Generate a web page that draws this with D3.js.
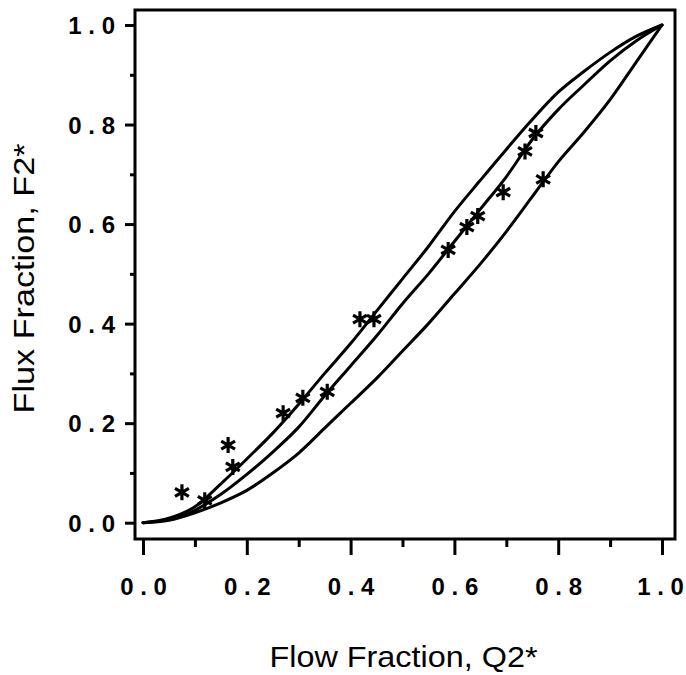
<!DOCTYPE html>
<html>
<head>
<meta charset="utf-8">
<script src="https://cdn.jsdelivr.net/npm/d3@7"></script>
<style>
  html, body { margin: 0; padding: 0; background: #fff; }
  svg { display: block; }
</style>
</head>
<body>
<svg id="chart" width="686" height="675"></svg>
<script>
// ---- data ----
const qGrid = [0, 0.05, 0.1, 0.15, 0.2, 0.25, 0.3, 0.35, 0.4, 0.45, 0.5, 0.55, 0.6, 0.65, 0.7, 0.75, 0.8, 0.85, 0.9, 0.95, 1.0];
const fUpper  = [0, 0.009, 0.032, 0.078, 0.128, 0.18, 0.238, 0.30, 0.36, 0.425, 0.49, 0.555, 0.625, 0.688, 0.75, 0.81, 0.865, 0.907, 0.945, 0.977, 1.0];
const fMiddle = [0, 0.007, 0.025, 0.057, 0.097, 0.142, 0.192, 0.255, 0.315, 0.375, 0.44, 0.50, 0.565, 0.63, 0.695, 0.77, 0.83, 0.88, 0.928, 0.968, 1.0];
const fLower  = [0, 0.005, 0.02, 0.04, 0.065, 0.10, 0.14, 0.19, 0.24, 0.29, 0.345, 0.40, 0.46, 0.52, 0.585, 0.655, 0.725, 0.785, 0.85, 0.925, 1.0];

const obsQ = [0.075, 0.119, 0.164, 0.173, 0.270, 0.308, 0.355, 0.418, 0.445, 0.588, 0.624, 0.645, 0.694, 0.736, 0.757, 0.771];
const obsF = [0.061, 0.045, 0.156, 0.112, 0.220, 0.251, 0.263, 0.409, 0.409, 0.548, 0.594, 0.616, 0.664, 0.746, 0.783, 0.690];

const majorTicks = [0, 0.2, 0.4, 0.6, 0.8, 1.0];
const minorTicks = [0.1, 0.3, 0.5, 0.7, 0.9];
const xTitle = "Flow Fraction, Q2*";
const yTitle = "Flux Fraction, F2*";

// ---- layout ----
const svg = d3.select("#chart");
const frame = { left: 135, top: 10, right: 675, bottom: 539 };
const x = d3.scaleLinear().domain([0, 1]).range([143, 662]);
const y = d3.scaleLinear().domain([0, 1]).range([522.7, 25]);
const lw = 3;
const fmt = d => d3.format(".1f")(d).split("").join(" ");

// frame
svg.append("rect")
  .attr("x", frame.left).attr("y", frame.top)
  .attr("width", frame.right - frame.left).attr("height", frame.bottom - frame.top)
  .attr("fill", "none").attr("stroke", "#000").attr("stroke-width", lw);

// x axis
const gx = svg.append("g").attr("transform", `translate(0,${frame.bottom})`);
gx.call(d3.axisBottom(x).tickValues(majorTicks).tickSize(16).tickFormat(fmt));
const gxm = svg.append("g").attr("transform", `translate(0,${frame.bottom})`);
gxm.call(d3.axisBottom(x).tickValues(minorTicks).tickSize(8).tickFormat(""));

// y axis
const gy = svg.append("g").attr("transform", `translate(${frame.left},0)`);
gy.call(d3.axisLeft(y).tickValues(majorTicks).tickSize(10).tickFormat(fmt));
const gym = svg.append("g").attr("transform", `translate(${frame.left},0)`);
gym.call(d3.axisLeft(y).tickValues(minorTicks).tickSize(5).tickFormat(""));

[gx, gxm, gy, gym].forEach(g => {
  g.select(".domain").remove();
  g.selectAll(".tick line").attr("stroke", "#000").attr("stroke-width", lw);
  g.selectAll(".tick text")
    .attr("font-family", "Liberation Sans, Arial, sans-serif")
    .attr("font-weight", "bold")
    .attr("font-size", 24)
    .attr("fill", "#000");
});
gx.selectAll(".tick text").attr("y", 39).attr("dy", "0.71em");
gx.selectAll(".tick text").filter(d => d === 1).attr("dx", -2);
gy.selectAll(".tick text").attr("x", -20).attr("dy", "0.36em");

// titles
svg.append("text")
  .attr("x", (x(0) + x(1)) / 2 + 1).attr("y", 667)
  .attr("text-anchor", "middle")
  .attr("font-family", "Liberation Sans, Arial, sans-serif")
  .attr("font-size", 30)
  .attr("textLength", 268).attr("lengthAdjust", "spacingAndGlyphs")
  .text(xTitle);

svg.append("text")
  .attr("transform", `translate(34,${(frame.top + frame.bottom) / 2 + 4}) rotate(-90)`)
  .attr("text-anchor", "middle")
  .attr("font-family", "Liberation Sans, Arial, sans-serif")
  .attr("font-size", 30)
  .attr("textLength", 270).attr("lengthAdjust", "spacingAndGlyphs")
  .text(yTitle);

// curves
const line = d3.line()
  .x(d => x(d[0])).y(d => y(d[1]))
  .curve(d3.curveMonotoneX);
[fUpper, fMiddle, fLower].forEach(fs => {
  svg.append("path")
    .datum(qGrid.map((q, i) => [q, fs[i]]))
    .attr("d", line)
    .attr("fill", "none").attr("stroke", "#000")
    .attr("stroke-width", lw).attr("stroke-linejoin", "round").attr("stroke-linecap", "round");
});

// asterisk markers
const r = 8;
const starPath = (cx, cy) => {
  const t = r / 2, u = t * Math.sqrt(3);
  return `M${cx},${cy - r}L${cx},${cy + r}` +
         `M${cx - u},${cy - t}L${cx + u},${cy + t}` +
         `M${cx - u},${cy + t}L${cx + u},${cy - t}`;
};
svg.append("g").selectAll("path")
  .data(obsQ.map((q, i) => [q, obsF[i]]))
  .join("path")
  .attr("d", d => starPath(x(d[0]), y(d[1])))
  .attr("fill", "none").attr("stroke", "#000").attr("stroke-width", 3.2);
</script>
</body>
</html>
